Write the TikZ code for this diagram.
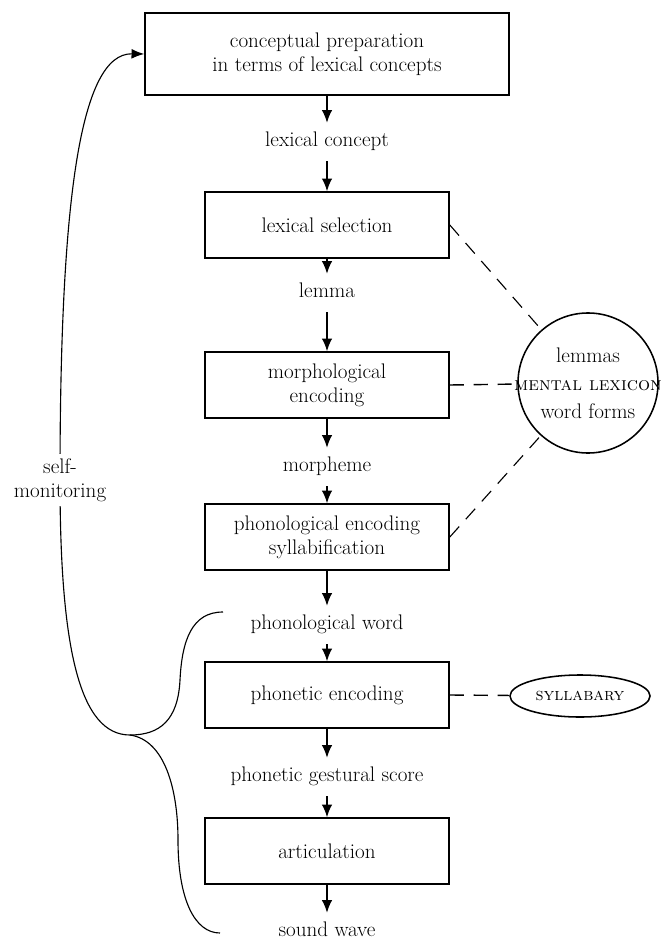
\documentclass[tikz,border=0pt]{standalone}
\usepackage{fontspec}
\usetikzlibrary{arrows.meta,shapes.geometric}

\tikzset{
  stage/.style={draw, line width=1.1pt, align=center, minimum width=6.1cm, minimum height=1.65cm, inner sep=2pt},
  output/.style={inner sep=7pt, text height=10pt, text depth=3pt},
  flow/.style={draw, line width=1.1pt, -{Latex[length=9pt,width=7.5pt]}},
  dashlink/.style={draw, line width=1pt, dash pattern=on 10pt off 7pt},
}

\begin{document}
\begin{tikzpicture}[x=0.025cm, y=-0.025cm, font=\fontsize{15}{17}\selectfont]
  \useasboundingbox (0,0) rectangle (662,945);

  \begin{scope}[every node/.style={stage}]
    \node (1)  at (327,54)  [minimum width=9.1cm, minimum height=2.05cm] {conceptual preparation\\in terms of lexical concepts};
    \node (3)  at (327,225) {lexical selection};
    \node (5)  at (327,385) {morphological\\encoding};
    \node (7)  at (327,537) {phonological encoding\\syllabification};
    \node (9)  at (327,695) {phonetic encoding};
    \node (11) at (327,851) {articulation};
  \end{scope}

  \begin{scope}[every node/.style={output}]
    \node (2)  at (327,142) {lexical concept};
    \node (4)  at (327,293) {lemma};
    \node (6)  at (327,467) {morpheme};
    \node (8)  at (327,625) {phonological word};
    \node (10) at (327,777) {phonetic gestural score};
    \node (12) at (327,932) {sound wave};
  \end{scope}

  % stores
  \node[circle, draw, line width=1.1pt, minimum size=3.5cm] (13) at (588,383) {};
  \node[align=center] (14) at (13) {lemmas\\[3pt]{\fontsize{13.5}{14}\selectfont\scshape mental lexicon}\\[3pt]word forms};
  \node[ellipse, draw, line width=1.1pt, minimum width=3.5cm, minimum height=1.05cm, inner sep=0pt, font=\fontsize{12.5}{14}\selectfont\scshape] (15) at (580,696) {syllabary};

  \path (1)  edge[flow] (2);
  \path (2)  edge[flow] (3);
  \path (3)  edge[flow] (4);
  \path (4)  edge[flow] (5);
  \path (5)  edge[flow] (6);
  \path (6)  edge[flow] (7);
  \path (7)  edge[flow] (8);
  \path (8)  edge[flow] (9);
  \path (9)  edge[flow] (10);
  \path (10) edge[flow] (11);
  \path (11) edge[flow] (12);

  \path (3.east) edge[dashlink, line width=0.8pt] (13);
  \path (5.east) edge[dashlink] (13);
  \path (7.east) edge[dashlink, line width=0.8pt] (13);
  \path (9.east) edge[dashlink] (15);

  % self-monitoring loop
  \coordinate (apex)   at (130,735);
  \coordinate (armtop) at (223,612);
  \coordinate (armbot) at (220,933);
  \coordinate (stem)   at (60,480);
  \draw[thick, -{Latex[length=9pt,width=7pt]}] (armtop) .. controls (192,612) and (182,640) .. (180,680)
    .. controls (178,720) and (160,735) .. (apex)
    .. controls (80,735) and (60,650) .. (stem) .. controls (60,200) and (80,53) .. (1.west);
  \draw[thick] (apex) .. controls (165,740) and (178,790) .. (178,840)
    .. controls (178,900) and (195,933) .. (armbot);
  \node[fill=white, align=center] (16) at (stem) {self-\\monitoring};

\end{tikzpicture}
\end{document}
